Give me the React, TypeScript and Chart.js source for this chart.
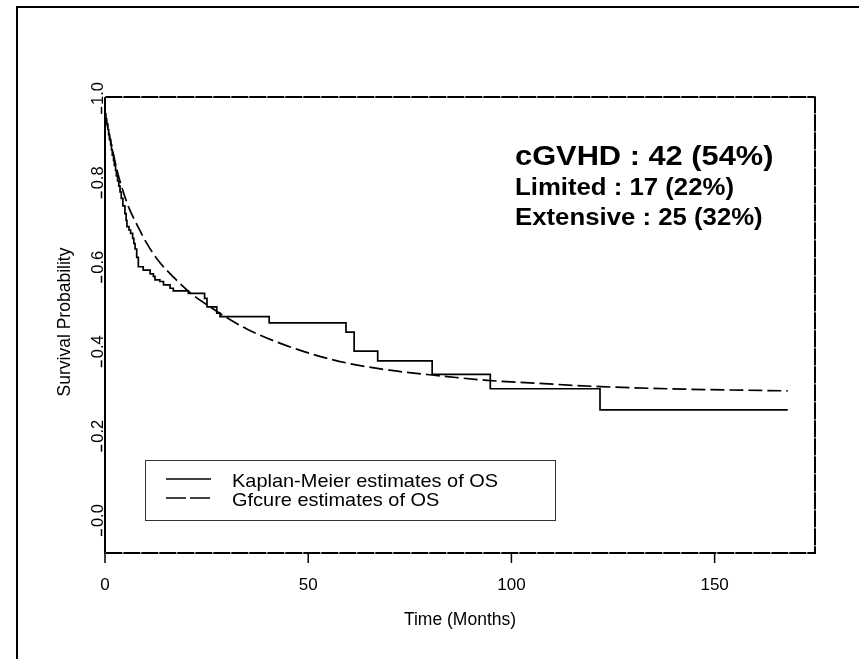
import { useEffect, useRef } from 'react';
import { Chart, registerables } from 'chart.js';

Chart.register(...registerables);

// Kaplan-Meier overall survival (step function)
const kmMonths = [0, 0.2, 0.4, 0.7, 0.9, 1.1, 1.4, 1.6, 1.8, 2.1, 2.3, 2.6, 2.8, 3.1, 3.4, 3.7, 4.0, 4.4, 4.9, 5.2, 5.4, 5.9, 6.3, 6.8, 7.1, 7.4, 7.8, 8.2, 9.4, 11.1, 11.9, 12.3, 13.5, 14.4, 16.0, 16.8, 20.5, 24.5, 25.1, 27.5, 28.3, 40.4, 59.3, 61.3, 67.1, 80.5, 94.8, 121.8, 168];
const kmSurvival = [1.0, 0.988, 0.976, 0.963, 0.951, 0.939, 0.927, 0.915, 0.902, 0.89, 0.878, 0.866, 0.853, 0.841, 0.829, 0.815, 0.8, 0.782, 0.764, 0.748, 0.733, 0.725, 0.717, 0.705, 0.693, 0.68, 0.66, 0.638, 0.63, 0.621, 0.615, 0.607, 0.603, 0.595, 0.587, 0.581, 0.575, 0.563, 0.543, 0.528, 0.52, 0.505, 0.483, 0.438, 0.415, 0.383, 0.349, 0.299, 0.299];

// Cure-model (Gfcure) fitted survival
const cureMonths = [0, 1.5, 3, 4.5, 6, 8, 10, 13, 17, 21, 26, 30, 35, 43, 51, 60, 70, 81, 94, 108, 122, 143, 168];
const cureSurvival = [1.0, 0.93, 0.865, 0.815, 0.775, 0.735, 0.698, 0.654, 0.612, 0.576, 0.542, 0.517, 0.49, 0.457, 0.431, 0.409, 0.393, 0.381, 0.369, 0.361, 0.354, 0.348, 0.344];

const xTickValues = [0, 50, 100, 150];
const yTickValues = [0, 0.2, 0.4, 0.6, 0.8, 1.0];
const yTickLabels = ['0.0', '0.2', '0.4', '0.6', '0.8', '1.0'];
const seriesLabels = ['Kaplan-Meier estimates of OS', 'Gfcure estimates of OS'];
const summaryLines = ['cGVHD : 42 (54%)', 'Limited : 17 (22%)', 'Extensive : 25 (32%)'];
const xTitle = 'Time (Months)';
const yTitle = 'Survival Probability';

const FONT = '"Liberation Sans", Arial, Helvetica, sans-serif';
const CURVE_DASH = [14, 5];

// draws a box edge as a solid black line with faint light notches along it
function notchedLine(ctx: CanvasRenderingContext2D, x0: number, y0: number, x1: number, y1: number) {
  ctx.setLineDash([]);
  ctx.strokeStyle = '#000';
  ctx.beginPath();
  ctx.moveTo(x0, y0);
  ctx.lineTo(x1, y1);
  ctx.stroke();
  ctx.setLineDash([1.5, 16.5]);
  ctx.lineDashOffset = -17;
  ctx.strokeStyle = '#9a9a9a';
  ctx.beginPath();
  ctx.moveTo(x0, y0);
  ctx.lineTo(x1, y1);
  ctx.stroke();
  ctx.setLineDash([]);
  ctx.lineDashOffset = 0;
  ctx.strokeStyle = '#000';
}

const decorations = {
  id: 'decorations',
  afterDraw(chart: any) {
    const { ctx, chartArea: a, scales } = chart;
    const x = scales.x;
    const y = scales.y;
    ctx.save();
    ctx.strokeStyle = '#000';
    ctx.fillStyle = '#000';

    // page frame (left and top edges)
    ctx.lineWidth = 2;
    ctx.beginPath();
    ctx.moveTo(17, 659);
    ctx.lineTo(17, 7);
    ctx.lineTo(859, 7);
    ctx.stroke();

    // plot box
    ctx.beginPath();
    ctx.moveTo(a.left, a.top);
    ctx.lineTo(a.left, a.bottom + 1);
    ctx.stroke();
    notchedLine(ctx, a.left, a.bottom, a.right, a.bottom);
    notchedLine(ctx, a.left, a.top, a.right, a.top);
    notchedLine(ctx, a.right, a.top - 1, a.right, a.bottom + 1);

    // x axis ticks and labels
    ctx.lineWidth = 1.5;
    ctx.font = `17px ${FONT}`;
    ctx.textAlign = 'center';
    ctx.textBaseline = 'middle';
    xTickValues.forEach((v) => {
      const px = x.getPixelForValue(v);
      ctx.beginPath();
      ctx.moveTo(px, a.bottom);
      ctx.lineTo(px, a.bottom + 10);
      ctx.stroke();
      ctx.fillText(String(v), px, a.bottom + 32);
    });

    // y axis labels, rotated, reading upward from the tick
    ctx.font = `16.5px ${FONT}`;
    yTickValues.forEach((v, i) => {
      const py = y.getPixelForValue(v);
      ctx.beginPath();
      ctx.moveTo(a.left - 3.5, py);
      ctx.lineTo(a.left - 3.5, py - 7);
      ctx.stroke();
      ctx.save();
      ctx.translate(a.left - 2, py - 9);
      ctx.rotate(-Math.PI / 2);
      ctx.textAlign = 'left';
      ctx.textBaseline = 'alphabetic';
      ctx.fillText(yTickLabels[i], 0, 0);
      ctx.restore();
    });

    // axis titles
    ctx.font = `17.5px ${FONT}`;
    ctx.textAlign = 'center';
    ctx.textBaseline = 'middle';
    ctx.fillText(xTitle, (a.left + a.right) / 2, 620);
    ctx.save();
    ctx.translate(65, 322);
    ctx.rotate(-Math.PI / 2);
    ctx.fillText(yTitle, 0, 0);
    ctx.restore();

    // legend box
    ctx.lineWidth = 1;
    ctx.strokeStyle = '#333';
    ctx.strokeRect(145.5, 460.5, 410, 60);
    ctx.strokeStyle = '#000';
    ctx.lineWidth = 1.6;
    ctx.beginPath();
    ctx.moveTo(166, 479);
    ctx.lineTo(211, 479);
    ctx.stroke();
    ctx.setLineDash([20, 4]);
    ctx.beginPath();
    ctx.moveTo(166, 498);
    ctx.lineTo(211, 498);
    ctx.stroke();
    ctx.setLineDash([]);
    ctx.font = `19px ${FONT}`;
    ctx.textAlign = 'left';
    ctx.textBaseline = 'middle';
    seriesLabels.forEach((txt, i) => {
      ctx.save();
      ctx.translate(232, 482 + i * 19);
      ctx.scale(1.05, 1);
      ctx.fillText(txt, 0, 0);
      ctx.restore();
    });

    // group summary
    const summaryStyle = [
      { size: 27.5, base: 165 },
      { size: 23, base: 195 },
      { size: 23, base: 225 },
    ];
    ctx.textBaseline = 'alphabetic';
    summaryLines.forEach((txt, i) => {
      ctx.save();
      ctx.font = `bold ${summaryStyle[i].size}px ${FONT}`;
      ctx.translate(515, summaryStyle[i].base);
      ctx.scale(1.12, 1);
      ctx.fillText(txt, 0, 0);
      ctx.restore();
    });

    ctx.restore();
  },
};

export default function App() {
  const canvasRef = useRef<HTMLCanvasElement | null>(null);

  useEffect(() => {
    const canvas = canvasRef.current;
    if (!canvas) return;
    const chart = new Chart(canvas, {
      type: 'line',
      data: {
        datasets: [
          {
            label: seriesLabels[0],
            data: kmMonths.map((t, i) => ({ x: t, y: kmSurvival[i] })),
            borderColor: '#000',
            borderWidth: 1.7,
            stepped: 'before',
            pointRadius: 0,
            fill: false,
          },
          {
            label: seriesLabels[1],
            data: cureMonths.map((t, i) => ({ x: t, y: cureSurvival[i] })),
            borderColor: '#000',
            borderWidth: 1.7,
            borderDash: CURVE_DASH,
            cubicInterpolationMode: 'monotone',
            pointRadius: 0,
            fill: false,
          },
        ],
      },
      options: {
        animation: false,
        responsive: false,
        devicePixelRatio: 1,
        layout: { padding: { left: 105, top: 97, right: 44, bottom: 106 } },
        scales: {
          x: { type: 'linear', min: 0, max: 174.7, display: false },
          y: { type: 'linear', min: -0.04, max: 1.04, display: false },
        },
        plugins: {
          legend: { display: false },
          tooltip: { enabled: false },
        },
        events: [],
      },
      plugins: [decorations],
    });
    return () => chart.destroy();
  }, []);

  return (
    <div style={{ position: 'fixed', left: 0, top: 0, width: 859, height: 659, background: '#fff' }}>
      <canvas ref={canvasRef} width={859} height={659} style={{ display: 'block' }} />
    </div>
  );
}
